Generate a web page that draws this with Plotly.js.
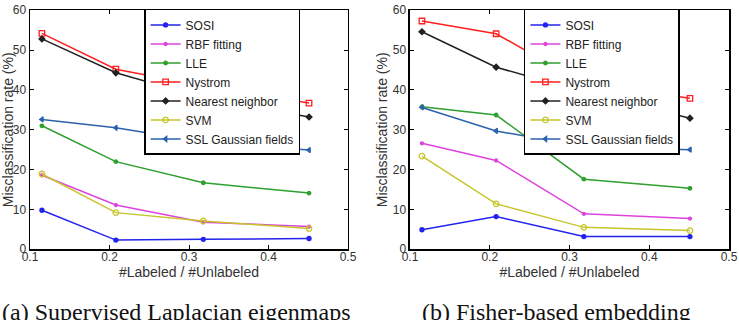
<!DOCTYPE html>
<html>
<head>
<meta charset="utf-8">
<script src="https://cdn.plot.ly/plotly-3.0.1.min.js"></script>
<style>
  html, body { margin: 0; padding: 0; background: #fff; }
  #chart { width: 739px; height: 320px; }
</style>
</head>
<body>
<div id="chart"></div>
<script>
// Ratio of labeled to unlabeled samples (shared by both panels)
const ratios = [0.115, 0.208, 0.318, 0.451];

const methods = ["SOSI", "RBF fitting", "LLE", "Nystrom", "Nearest neighbor", "SVM", "SSL Gaussian fields"];

// (a) Supervised Laplacian eigenmaps — misclassification rate (%)
const slapSOSI    = [9.8, 2.3, 2.5, 2.7];
const slapRBF     = [18.6, 11.1, 6.8, 5.7];
const slapLLE     = [31.0, 22.0, 16.7, 14.1];
const slapNystrom = [54.2, 45.2, 41.0, 36.7];
const slapNN      = [52.8, 44.3, 38.0, 33.2];
const slapSVM     = [18.9, 9.2, 7.1, 5.2];
const slapSSL     = [32.6, 30.5, 26.9, 24.9];

// (b) Fisher-based embedding — misclassification rate (%)
const fishSOSI    = [4.9, 8.2, 3.2, 3.2];
const fishRBF     = [26.6, 22.3, 8.9, 7.7];
const fishLLE     = [35.8, 33.7, 17.6, 15.3];
const fishNystrom = [57.3, 54.1, 41.6, 37.9];
const fishNN      = [54.6, 45.7, 39.5, 32.9];
const fishSVM     = [23.4, 11.4, 5.5, 4.7];
const fishSSL     = [35.6, 29.7, 25.8, 25.0];

const xTicks = [0.1, 0.2, 0.3, 0.4, 0.5];
const yTicks = [0, 10, 20, 30, 40, 50, 60];

// Line colour and marker for each method
const styles = [
  { color: "#2323ee", symbol: "circle", size: 4 },
  { color: "#dd44dd", symbol: "circle", size: 3 },
  { color: "#2f9f2f", symbol: "circle", size: 3.5 },
  { color: "#ff1f1f", symbol: "square-open", size: 5.5 },
  { color: "#222222", symbol: "diamond", size: 4.5 },
  { color: "#c6c62a", symbol: "circle-open", size: 5.5 },
  { color: "#2a62ae", symbol: "triangle-left", size: 4.5 }
];

const panelA = [slapSOSI, slapRBF, slapLLE, slapNystrom, slapNN, slapSVM, slapSSL];
const panelB = [fishSOSI, fishRBF, fishLLE, fishNystrom, fishNN, fishSVM, fishSSL];

function series(values, i, xa, ya, legend) {
  const s = styles[i];
  return {
    x: ratios, y: values, name: methods[i],
    xaxis: xa, yaxis: ya, legend: legend,
    type: "scatter", mode: "lines+markers",
    line: { color: s.color, width: 1.5 },
    marker: { color: s.color, symbol: s.symbol, size: s.size,
              line: { color: s.color, width: 1.3 } }
  };
}

const traces = [];
panelA.forEach((v, i) => traces.push(series(v, i, "x", "y", "legend")));
panelB.forEach((v, i) => traces.push(series(v, i, "x2", "y2", "legend2")));

const font = "Liberation Sans, Arial, sans-serif";
const serif = "Liberation Serif, Times New Roman, serif";

function xAxis(domain, anchor) {
  return {
    domain: domain, anchor: anchor, range: [0.1, 0.5],
    tickvals: xTicks, ticktext: xTicks.map(v => v.toFixed(1)),
    ticks: "inside", ticklen: 4, tickwidth: 1, tickcolor: "#000",
    showline: true, linecolor: "#000", linewidth: 1.5, mirror: "ticks",
    showgrid: false, zeroline: false, ticklabelstandoff: -4,
    tickfont: { family: font, size: 12, color: "#333" },
    title: { text: "#Labeled / #Unlabeled", font: { family: font, size: 14, color: "#333" }, standoff: 2 }
  };
}
function yAxis(anchor) {
  return {
    domain: [0.221, 0.968], anchor: anchor, range: [0, 60],
    tickvals: yTicks,
    ticks: "inside", ticklen: 4, tickwidth: 1, tickcolor: "#000",
    showline: true, linecolor: "#000", linewidth: 1.5, mirror: "ticks",
    showgrid: false, zeroline: false,
    tickfont: { family: font, size: 12, color: "#333" },
    title: { text: "Misclassification rate (%)", font: { family: font, size: 14, color: "#333" }, standoff: 2 }
  };
}
function legendBox(x) {
  return {
    x: x, y: 0.972, xanchor: "left", yanchor: "top",
    bgcolor: "#fff", bordercolor: "#000", borderwidth: 1.5,
    font: { family: font, size: 12, color: "#222" },
    tracegroupgap: 0, itemwidth: 30
  };
}

const layout = {
  width: 739, height: 320,
  margin: { l: 0, r: 0, t: 0, b: 0 },
  paper_bgcolor: "#fff", plot_bgcolor: "#fff",
  xaxis: xAxis([0.0406, 0.4709], "y"),
  yaxis: yAxis("x"),
  xaxis2: xAxis([0.5548, 0.9865], "y2"),
  yaxis2: yAxis("x2"),
  legend: legendBox(0.195),
  legend2: legendBox(0.709),
  annotations: [
    { text: "(a) Supervised Laplacian eigenmaps", xref: "paper", yref: "paper",
      x: 0.239, y: 0.026, xanchor: "center", yanchor: "middle", showarrow: false,
      font: { family: serif, size: 24, color: "#111" } },
    { text: "(b) Fisher-based embedding", xref: "paper", yref: "paper",
      x: 0.753, y: 0.026, xanchor: "center", yanchor: "middle", showarrow: false,
      font: { family: serif, size: 24, color: "#111" } }
  ],
  showlegend: true
};

Plotly.newPlot("chart", traces, layout, { staticPlot: true, displayModeBar: false });
</script>
</body>
</html>
